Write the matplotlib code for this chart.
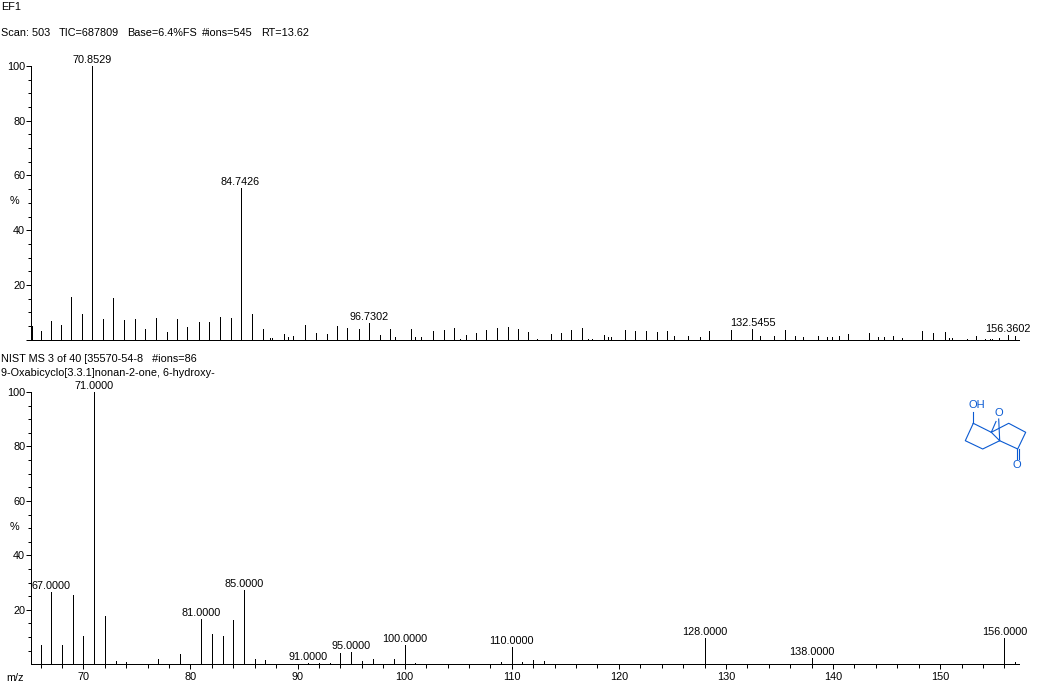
import numpy as np
import matplotlib
matplotlib.use('Agg')
import matplotlib.pyplot as plt

plt.rcParams['font.family'] = ['Liberation Sans', 'DejaVu Sans']
plt.rcParams['font.size'] = 7.8

W, H = 1049, 684
PX = 0.72  # one pixel in points at dpi 100

# sample spectrum (top)
top_mz = [65.23, 66.07, 67.0, 67.94, 68.91, 69.9, 70.8529, 71.86, 72.79, 73.82, 74.85, 75.78,
          76.81, 77.83, 78.77, 79.79, 80.82, 81.76, 82.78, 83.81, 84.7426, 85.77, 86.8, 87.52,
          87.7, 88.76, 89.13, 89.6, 90.72, 91.75, 92.77, 93.71, 94.73, 95.76, 96.7302, 97.72,
          98.66, 99.19, 100.62, 100.99, 101.55, 102.67, 103.7, 104.63, 105.19, 105.75, 106.69,
          107.62, 108.65, 109.67, 110.61, 111.63, 112.47, 113.69, 114.62, 115.56, 116.58,
          117.14, 117.52, 118.64, 119.1, 119.38, 120.6, 121.53, 122.56, 123.59, 124.52, 125.17,
          126.48, 127.69, 128.53, 130.5, 132.5455, 133.2, 134.51, 135.54, 136.47, 137.22,
          138.62, 139.46, 139.93, 140.58, 141.42, 143.47, 144.31, 144.78, 145.62, 146.55,
          148.33, 149.36, 150.48, 150.94, 151.13, 152.53, 153.37, 154.21, 154.68, 154.87,
          155.52, 156.3602, 157.01]
top_int = [5, 3.2, 6.8, 5.4, 15.7, 9.4, 100, 7.6, 15.2, 7.2, 7.6, 3.9,
           7.9, 2.8, 7.6, 4.6, 6.5, 6.5, 8.3, 7.9, 55.4, 9.4, 3.9, 0.5,
           0.5, 2, 1, 1.3, 5.4, 2.4, 2, 5, 4.3, 3.8, 6, 1.8,
           3.8, 0.9, 3.8, 1.1, 1.1, 3, 3.5, 4.1, 0.4, 1.8, 2.3,
           3.4, 4.1, 4.5, 3.8, 2.7, 0.4, 2, 2.3, 3.4, 4.1,
           0.4, 0.4, 1.8, 1, 1.1, 3.4, 3, 3, 2.7, 3, 1.2,
           1.2, 0.9, 3, 3.4, 3.8, 1.2, 1.2, 3.4, 1.2, 0.9,
           1.2, 0.9, 1.1, 1.2, 2.2, 2.3, 0.9, 0.9, 1.2, 0.5,
           3, 2.3, 2.7, 0.7, 0.5, 0.4, 1.2, 0.4, 0.4, 0.4,
           0.6, 1.6, 1.2]
top_labels = [70.8529, 84.7426, 96.7302, 132.5455, 156.3602]

# library spectrum (bottom)
lib_mz = [66, 67, 68, 69, 70, 71, 72, 73, 74, 77, 79, 81, 82, 83, 84, 85, 86, 87, 91, 92, 93,
          94, 95, 96, 97, 99, 100, 101, 109, 110, 111, 112, 113, 128, 138, 156, 157]
lib_int = [7.1, 26.6, 7.1, 25.5, 10.4, 100, 17.7, 1.2, 0.7, 2, 3.8, 16.6, 11.1, 10.4, 16.3, 27.3,
           2, 1.6, 0.3, 0.3, 0.3, 4, 4.4, 1.1, 1.8, 1.8, 7, 0.4, 0.7, 6.2, 0.7, 1.5, 1.1,
           9.5, 2.2, 9.5, 0.7]
lib_labels = [67, 71, 81, 85, 91, 95, 100, 110, 128, 138, 156]

# header pieces and their left edges
scan_parts = ['Scan: 503', 'TIC=687809', 'Base=6.4%FS', '#ions=545', 'RT=13.62']
scan_left = [1, 59, 127, 202, 261]

# structure drawing, image pixels
ring_a_x = [973.3, 965.3, 982.7, 999.7, 991.3, 973.3]
ring_a_y = [423.3, 440.7, 449, 440.7, 432.3, 423.3]
ring_b_x = [999.7, 1017.7, 1025.7, 1008.7, 991.3]
ring_b_y = [440.7, 449, 432.3, 423.3, 432.3]

xlim_top = (65.15, 157.43)
xlim_lib = (65.08, 157.36)
left, right = 30.7, 1019.0


def make_axes(y_top, y_bot):
    return plt.axes([left / W, 1 - y_bot / H, (right - left) / W, (y_bot - y_top) / H])


def style_axes(ax, xlim):
    ax.set_xlim(*xlim)
    ax.set_ylim(0, 100)
    for s in ['top', 'right']:
        ax.spines[s].set_visible(False)
    for s in ['left', 'bottom']:
        ax.spines[s].set_linewidth(PX)
    ax.set_yticks(np.arange(5, 101, 5), minor=True)
    ax.tick_params(axis='y', which='major', length=5.5 * PX, width=PX, pad=0, labelsize=7.8)
    ax.tick_params(axis='y', which='minor', length=3 * PX, width=PX)


fig = plt.figure(figsize=(W / 100, H / 100), dpi=100, facecolor='white')

ax1 = make_axes(66.0, 339.7)
style_axes(ax1, xlim_top)
ax1.vlines(top_mz, 0, top_int, color='black', lw=PX, antialiased=False)
ax1.set_yticks([0, 20, 40, 60, 80, 100])
ax1.set_yticklabels(['', '20', '40', '60', '80', '100'])
ax1.set_xticks([])
for m in top_labels:
    h = top_int[top_mz.index(m)]
    ax1.annotate('%.4f' % m, (m, h), xytext=(0, 0.8), textcoords='offset points',
                 ha='center', va='bottom', annotation_clip=False)

ax2 = make_axes(392.0, 664.3)
style_axes(ax2, xlim_lib)
ax2.vlines(lib_mz, 0, lib_int, color='black', lw=PX, antialiased=False)
ax2.set_yticks([20, 40, 60, 80, 100])
ax2.set_xticks(np.arange(70, 151, 10))
ax2.set_xticks(np.arange(66, 157, 2), minor=True)
ax2.tick_params(axis='x', which='major', length=5 * PX, width=PX, pad=2, labelsize=7.8)
ax2.tick_params(axis='x', which='minor', length=3.5 * PX, width=PX)
for m in lib_labels:
    h = lib_int[lib_mz.index(m)]
    ax2.annotate('%.4f' % m, (m, h), xytext=(0, 0.8), textcoords='offset points',
                 ha='center', va='bottom', annotation_clip=False)

# overlay in image pixels for header text and the structure
ov = fig.add_axes([0, 0, 1, 1], facecolor='none')
ov.set_xlim(0, W)
ov.set_ylim(H, 0)
ov.axis('off')
ov.text(1, 7.5, 'EF1', va='center')
for s, x0 in zip(scan_parts, scan_left):
    ov.text(x0, 33, s, va='center')
ov.text(1, 359.5, 'NIST MS 3 of 40 [35570-54-8   #ions=86', va='center')
ov.text(1, 373.5, '9-Oxabicyclo[3.3.1]nonan-2-one, 6-hydroxy-', va='center')
ov.text(14, 201, '%', ha='center', va='center')
ov.text(14, 527, '%', ha='center', va='center')
ov.text(15, 678, 'm/z', ha='center', va='center')

blue = '#0a5ad2'
ov.plot(ring_a_x, ring_a_y, color=blue, lw=0.8)
ov.plot(ring_b_x, ring_b_y, color=blue, lw=0.8)
ov.plot([973.3, 973.3], [423.3, 412], color=blue, lw=0.8)
ov.plot([991.3, 996], [432.3, 421.5], color=blue, lw=0.8)
ov.plot([999.7, 998.7], [440.7, 419], color=blue, lw=0.8)
ov.plot([1016.5, 1016.5], [449, 459], color=blue, lw=0.8)
ov.plot([1018.7, 1018.7], [449, 459], color=blue, lw=0.8)
ov.text(977, 405.3, 'OH', color=blue, ha='center', va='center', fontsize=8)
ov.text(999, 413.5, 'O', color=blue, ha='center', va='center', fontsize=8)
ov.text(1017, 465.5, 'O', color=blue, ha='center', va='center', fontsize=8)

fig.savefig('out.png', dpi=100)
